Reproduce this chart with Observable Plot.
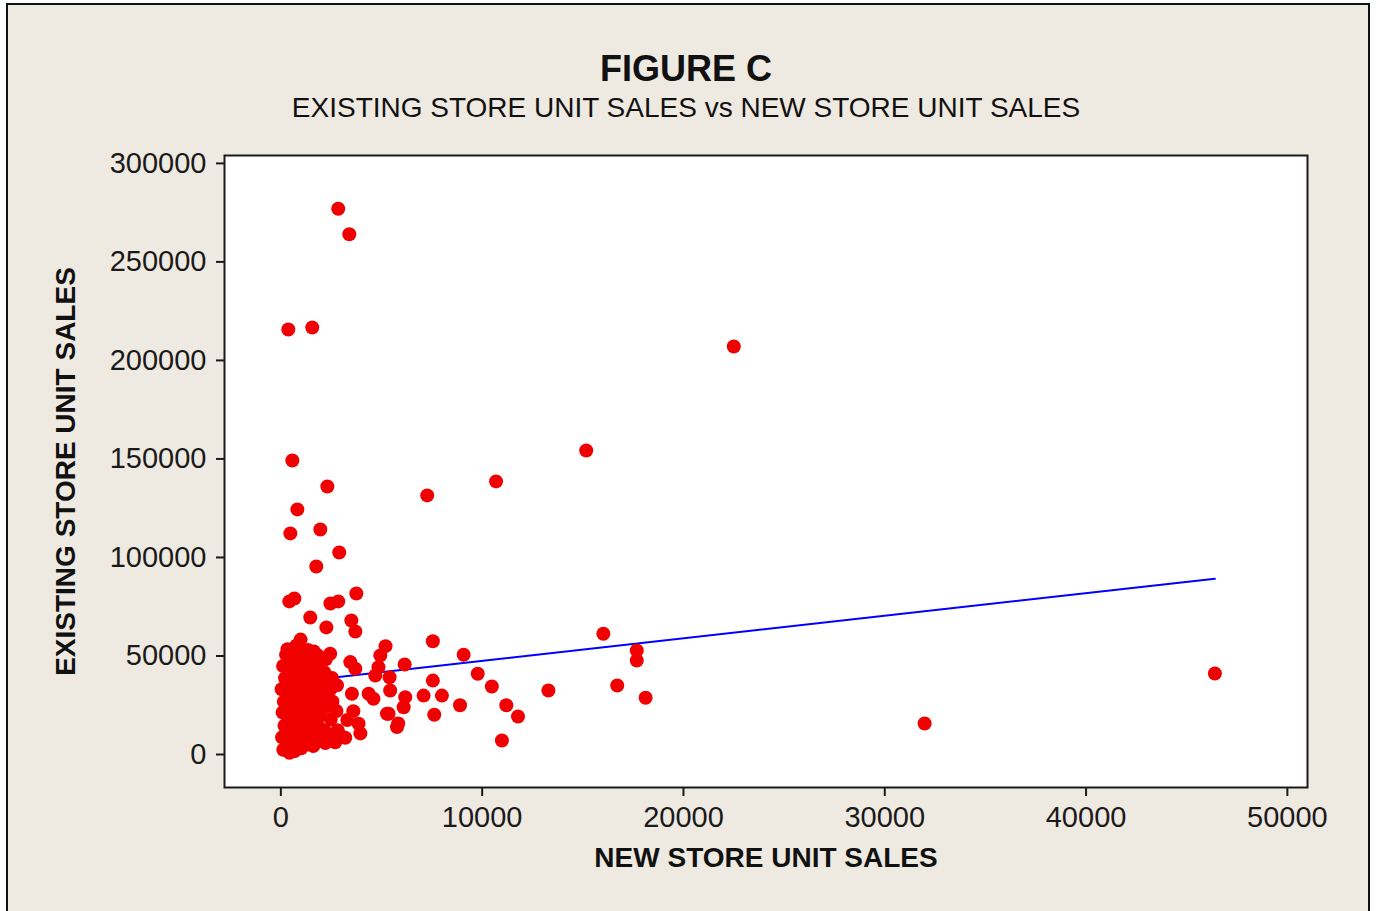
<!DOCTYPE html>
<html>
<head>
<meta charset="utf-8">
<script src="https://cdn.jsdelivr.net/npm/d3@7"></script>
<script src="https://cdn.jsdelivr.net/npm/@observablehq/plot@0.6"></script>
<style>
  html, body { margin: 0; padding: 0; background: #ffffff; }
  #panel { position: relative; width: 1379px; height: 911px; overflow: hidden; background: #ffffff; }
  #bg { position: absolute; left: 6px; top: 3px; width: 1364px; height: 920px;
        background: #efeae1; border: 2px solid #111; box-sizing: border-box; }
  .ttl { position: absolute; left: 0; width: 1372px; text-align: center; color: #111;
         font-family: "Liberation Sans", Arial, sans-serif; line-height: 1; white-space: nowrap; }
  #title { top: 51px; font-size: 36px; font-weight: bold; }
  #subtitle { top: 94px; font-size: 28px; }
  #chart { position: absolute; left: 0; top: 0; }
</style>
</head>
<body>
<div id="panel">
  <div id="bg"></div>
  <div id="title" class="ttl">FIGURE C</div>
  <div id="subtitle" class="ttl">EXISTING STORE UNIT SALES vs NEW STORE UNIT SALES</div>
  <div id="chart"></div>
</div>
<script>
// Unit sales per store: new-store sales (x) and existing-store sales (y)
const newStoreSales = [
  2850, 3400, 370, 1560, 22500, 570, 15170, 7270, 10690, 820,
  2310, 470, 1960, 2900, 1760, 3750, 420, 670, 2850, 2460,
  1460, 3500, 3700, 2260, 7550, 16020, 17680, 17680, 9080, 6150,
  5200, 46400, 31980, 13290, 16710, 18120, 10980, 11780, 11200, 10480,
  9780, 8900, 8000, 7620, 7550, 7090, 6180, 6100, 5400, 5430,
  5350, 5770, 4940, 4850, 4690, 3530, 4360, 4600, 3450, 3700,
  2870, 2700, 3950, 3860, 5830, 5270, 3300, 3600, 3200, 2450,
  120, 60, 180, 90, 150, 40, 210, 110, 260,
  430, 380, 470, 350, 520, 410, 480, 370, 450, 330,
  690, 740, 660, 780, 710, 650, 770, 720, 680, 760,
  1010, 960, 1080, 990, 1040, 950, 1070, 1000, 1090, 980,
  1290, 1340, 1260, 1330, 1280, 1360, 1300, 1250, 1350,
  1610, 1570, 1650, 1590, 1630, 1560, 1680, 1600, 1640,
  1920, 1870, 1950, 1900, 1960, 1880, 1930, 1850,
  2210, 2170, 2240, 2190, 2260, 2150, 2230,
  2520, 2480, 2560, 2470, 2540,
  2820, 2760, 2790
];
const existingStoreSales = [
  277000, 264000, 215700, 216700, 207100, 149200, 154300, 131500, 138600, 124400,
  136000, 112200, 114200, 102500, 95400, 81700, 77700, 79200, 77700, 76600,
  69500, 68000, 62400, 64500, 57500, 61300, 52800, 47700, 50600, 45700,
  55000, 41100, 15700, 32500, 35000, 28800, 7100, 19300, 25000, 34500,
  41000, 25000, 29900, 20200, 37500, 29900, 29100, 24000, 39200, 32500,
  20700, 13900, 50300, 44300, 40100, 30800, 30800, 28300, 46900, 43500,
  10500, 6200, 10700, 15600, 15700, 20700, 17500, 22000, 8500, 51100,
  2400, 8700, 14600, 21300, 26800, 33100, 38700, 44900, 50600,
  900, 5200, 11300, 16800, 23400, 29100, 35300, 40800, 47200, 53400,
  1700, 6900, 12800, 19300, 24700, 31200, 36800, 43300, 49100, 55200,
  3200, 8800, 15300, 20900, 27200, 32800, 39100, 44700, 50900, 58300,
  5100, 11200, 16900, 23300, 28800, 35200, 40900, 47100, 53000,
  4300, 9800, 16200, 21800, 28300, 33900, 40200, 45800, 52300,
  7900, 14100, 19800, 26300, 31700, 38200, 43900, 50200,
  5800, 12100, 24200, 29800, 36300, 41800, 48300,
  8900, 17800, 26900, 33200, 38800,
  12300, 22100, 35100
];

// End points of the fitted least-squares line
const fitNew = [0, 46400];
const fitExisting = [36000, 89200];

const xTicks = [0, 10000, 20000, 30000, 40000, 50000];
const yTicks = [0, 50000, 100000, 150000, 200000, 250000, 300000];

const xLabel = "NEW STORE UNIT SALES";
const yLabel = "EXISTING STORE UNIT SALES";

const stores = newStoreSales.map((x, i) => ({x, y: existingStoreSales[i]}));
const fit = fitNew.map((x, i) => ({x, y: fitExisting[i]}));

const chart = Plot.plot({
  width: 1379,
  height: 911,
  marginLeft: 224,
  marginRight: 72,
  marginTop: 155,
  marginBottom: 124,
  style: {background: "transparent", fontFamily: "Liberation Sans, Arial, sans-serif", fontSize: "29px", color: "#1a1a1a"},
  x: {domain: [-2800, 51000]},
  y: {domain: [-16750, 304000]},
  marks: [
    Plot.frame({fill: "white", stroke: "none"}),
    Plot.axisX({ticks: xTicks, tickSize: 9, tickPadding: 10, tickFormat: d => String(d), label: null, stroke: "#1a1a1a", strokeWidth: 2}),
    Plot.axisY({ticks: yTicks, tickSize: 8, tickPadding: 10, tickFormat: d => String(d), label: null, stroke: "#1a1a1a", strokeWidth: 2}),
    Plot.line(fit, {x: "x", y: "y", stroke: "#0000ff", strokeWidth: 2}),
    Plot.dot(stores, {x: "x", y: "y", r: 7, fill: "#f00000", stroke: "none"}),
    Plot.frame({stroke: "#1a1a1a", strokeWidth: 2}),
    Plot.text([xLabel], {frameAnchor: "bottom", dy: 71, lineAnchor: "middle", text: d => d, fontSize: 28, fontWeight: "bold", fill: "#111"}),
    Plot.text([yLabel], {frameAnchor: "left", dx: -158, rotate: -90, textAnchor: "middle", lineAnchor: "middle", text: d => d, fontSize: 28, fontWeight: "bold", fill: "#111"})
  ]
});

document.getElementById("chart").appendChild(chart);
</script>
</body>
</html>
